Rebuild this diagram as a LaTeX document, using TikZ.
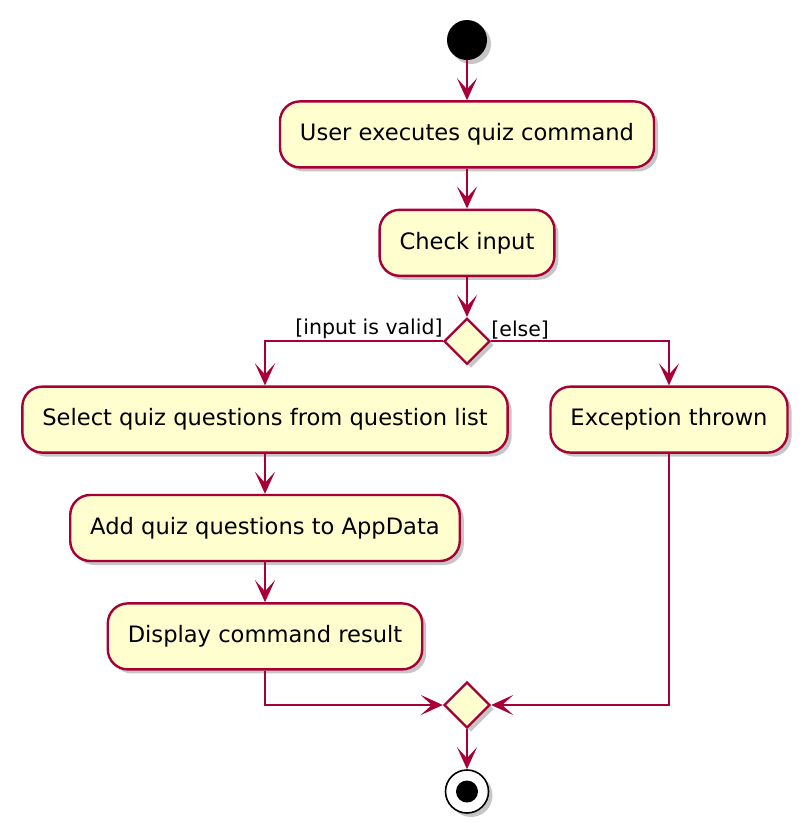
\documentclass[tikz,border=0pt]{standalone}
\usepackage{fontspec}
\setmainfont{DejaVu Sans}
\usetikzlibrary{arrows.meta,positioning,shapes.geometric,shadows}

\definecolor{umlred}{HTML}{A80036}
\definecolor{umlfill}{HTML}{FEFECE}

\begin{document}
\begin{tikzpicture}[x=1pt,y=-1pt,node distance=40pt,
                    >={Stealth[length=22pt,width=20pt,inset=11pt]},
                    flow/.style={->,draw=umlred,line width=2.4pt},
                    shade/.style={drop shadow={shadow xshift=4pt,shadow yshift=-4pt,opacity=0.45}},
                    action/.style={rectangle,rounded corners=20pt,draw=umlred,fill=umlfill,
                      line width=2.4pt,minimum height=66pt,inner xsep=20pt,
                      font=\fontsize{22.6}{27}\selectfont,shade},
                    decision/.style={diamond,draw=umlred,fill=umlfill,line width=2.4pt,
                      minimum width=46pt,minimum height=46pt,inner sep=0pt,shade},
                    initnode/.style={circle,fill=black,minimum size=40pt,inner sep=0pt,shade},
                    finalnode/.style={circle,draw=black,fill=white,line width=1.6pt,
                      minimum size=43pt,inner sep=0pt,shade},
                    guard/.style={font=\fontsize{20.5}{24}\selectfont,inner sep=0pt}]

  \useasboundingbox (0,0) rectangle (808,833);

  \node[initnode] (start) at (467,40)              {};
  \node[action] (exec) [below=of start]           {User executes quiz command};
  \node[action] (check) [below=of exec]           {Check input};
  \node[decision] (valid) [below=of check]        {};
  \node[action] (select) [below=20pt of valid, xshift=-202pt] {Select quiz questions from question list};
  \node[action] (except) [below=20pt of valid, xshift=202pt]  {Exception thrown};
  \node[action] (add) [below=of select]           {Add quiz questions to AppData};
  \node[action] (show) [below=of add]             {Display command result};
  \node[decision] (merge) at (467,705)            {};
  \node[finalnode] (end) [below=of merge]         {};
  \fill (end.center) circle (11pt);

  \node[guard] (lvalid) [above left=2pt and 0pt of valid.west]  {[input is valid]};
  \node[guard] (lelse) [above right=2pt and 0pt of valid.east]  {[else]};

  \draw[flow] (start) -- (exec);
  \draw[flow] (exec) -- (check);
  \draw[flow] (check) -- (valid);
  \draw[flow] (valid.west) -| (select.north);
  \draw[flow] (valid.east) -| (except.north);
  \draw[flow] (select) -- (add);
  \draw[flow] (add) -- (show);
  \draw[flow] (show.south) |- (merge.west);
  \draw[flow] (except.south) |- (merge.east);
  \draw[flow] (merge) -- (end);

\end{tikzpicture}
\end{document}
